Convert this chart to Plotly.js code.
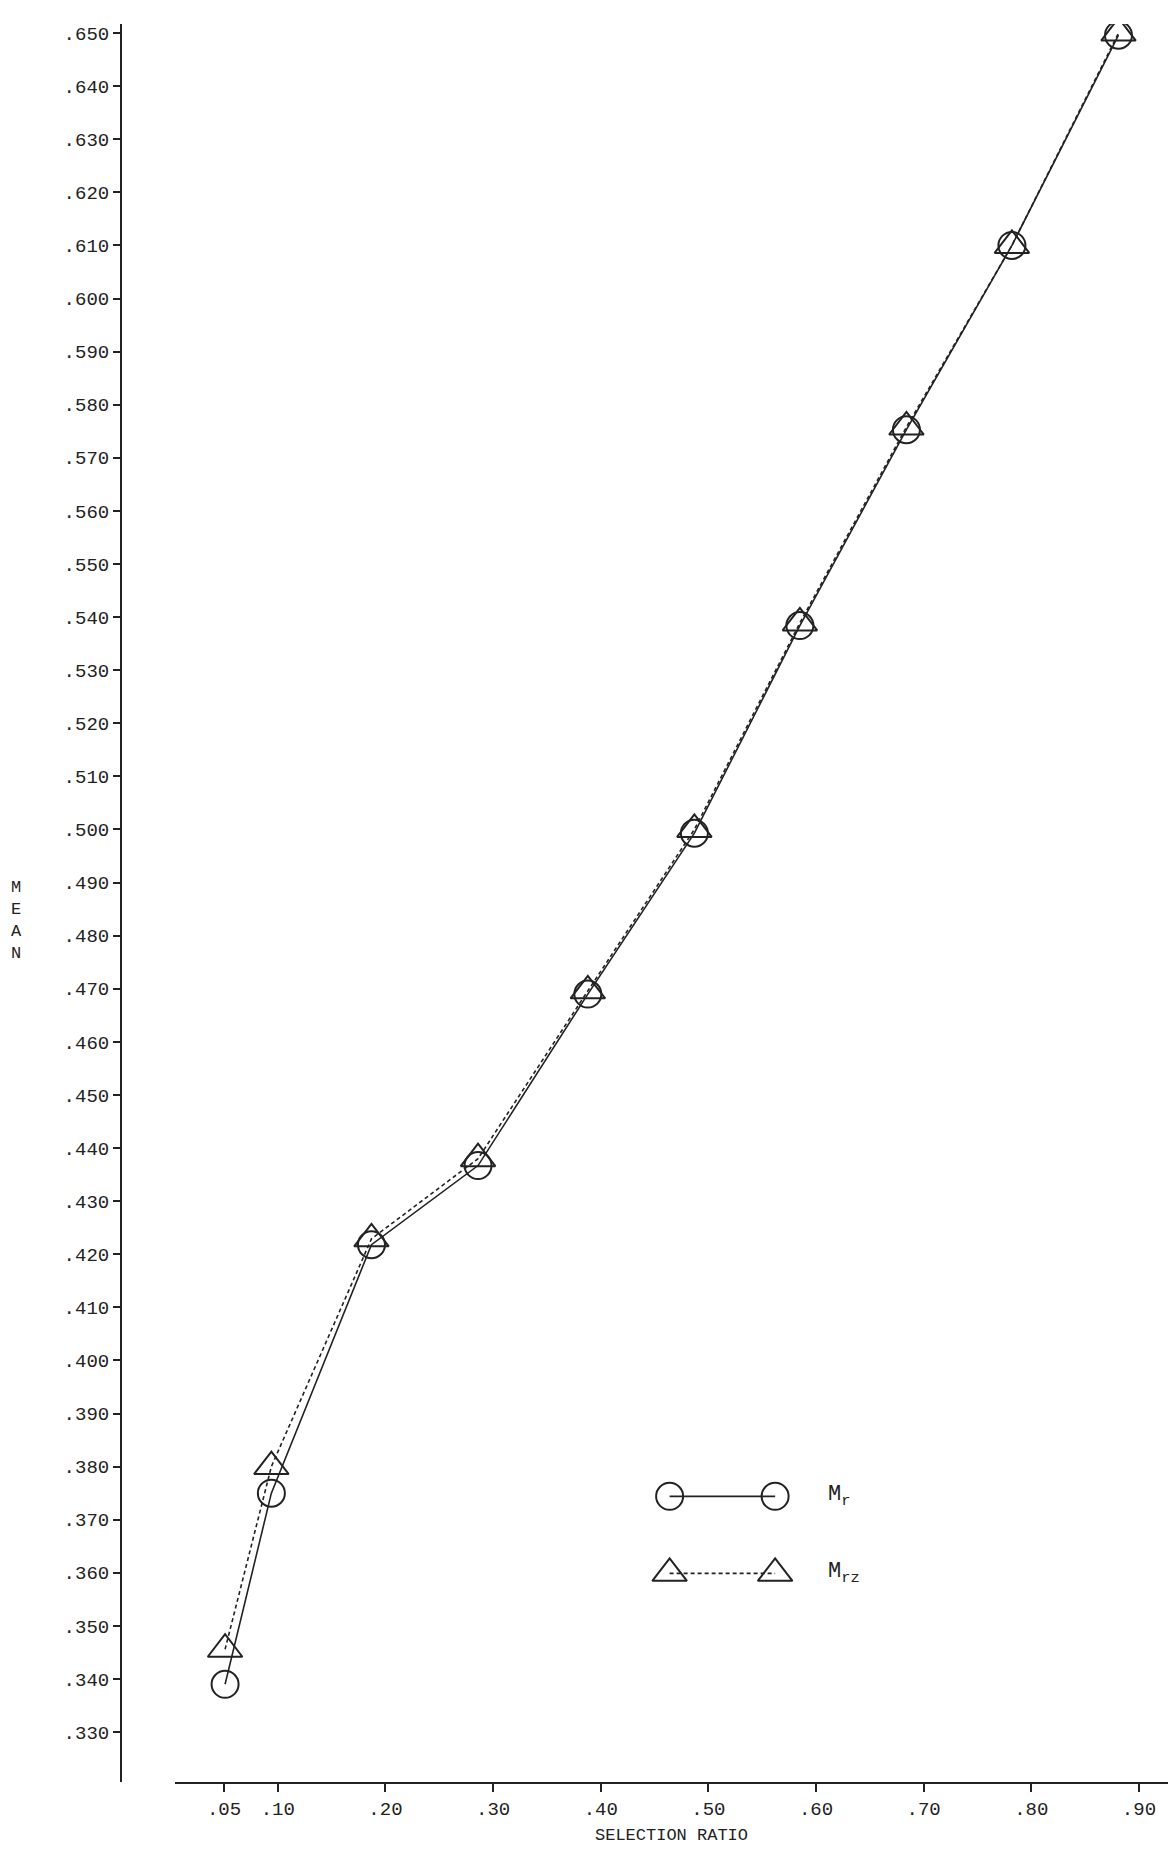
<!DOCTYPE html>
<html><head><meta charset="utf-8">
<script src="https://cdn.plot.ly/plotly-3.0.1.min.js"></script>
<style>body{margin:0;background:#fff}#chart{width:1170px;height:1852px}</style>
</head><body><div id="chart"></div>
<script>
const ratioMr = [0.051, 0.094, 0.187, 0.286, 0.388, 0.487, 0.585, 0.684, 0.782, 0.881];
const meanMr = [0.339, 0.375, 0.4218, 0.4367, 0.469, 0.4993, 0.5384, 0.5753, 0.610, 0.6496];
const ratioMrz = [0.051, 0.094, 0.187, 0.286, 0.388, 0.487, 0.585, 0.684, 0.782, 0.881];
const meanMrz = [0.3456, 0.380, 0.4229, 0.438, 0.4696, 0.500, 0.5389, 0.5758, 0.610, 0.650];
const xTicks = [0.05, 0.10, 0.20, 0.30, 0.40, 0.50, 0.60, 0.70, 0.80, 0.90];
const xTickText = ['.05', '.10', '.20', '.30', '.40', '.50', '.60', '.70', '.80', '.90'];
const yTicks = [];
for (let k = 33; k <= 65; k++) yTicks.push(k / 100);
const yTickText = yTicks.map(v => v.toFixed(3).replace(/^0/, ''));
// legend sample positions (data units)
const legX = [0.464, 0.562];
const legYr = [0.3744, 0.3744];
const legYrz = [0.3599, 0.3599];

const FONT = 'Liberation Mono, DejaVu Sans Mono, monospace';
const ink = '#222';
const circle = { symbol: 'circle-open', size: 27, color: ink, line: { width: 2, color: ink } };
const tri = { symbol: 'triangle-up-open', size: 30, color: ink, line: { width: 2, color: ink } };

const traces = [
  { x: ratioMr, y: meanMr, mode: 'lines+markers', type: 'scatter',
    line: { color: ink, width: 1.6 }, marker: circle },
  { x: ratioMrz, y: meanMrz, mode: 'lines+markers', type: 'scatter',
    line: { color: ink, width: 1.6, dash: '4px,3px' }, marker: tri },
  { x: legX, y: legYr, mode: 'lines+markers', type: 'scatter',
    line: { color: ink, width: 1.6 }, marker: circle },
  { x: legX, y: legYrz, mode: 'lines+markers', type: 'scatter',
    line: { color: ink, width: 1.6, dash: '4px,3px' }, marker: tri },
];

Plotly.newPlot('chart', traces, {
  width: 1170, height: 1852,
  margin: { l: 121, r: 2, t: 24, b: 70 },
  paper_bgcolor: '#fff', plot_bgcolor: '#fff',
  showlegend: false,
  font: { family: FONT, size: 19, color: ink },
  xaxis: {
    domain: [0.0516, 1],
    range: [0.0045, 0.927], tickmode: 'array', tickvals: xTicks, ticktext: xTickText,
    ticks: 'outside', ticklen: 8, tickwidth: 1.5, tickcolor: ink,
    showline: true, linecolor: ink, linewidth: 2, showgrid: false, zeroline: false,
    title: { text: 'SELECTION RATIO', font: { family: FONT, size: 17 }, standoff: 8 },
  },
  yaxis: {
    anchor: 'free', position: 0,
    range: [0.3206, 0.6517], tickmode: 'array', tickvals: yTicks, ticktext: yTickText,
    ticks: 'outside', ticklen: 7, tickwidth: 1.5, tickcolor: ink,
    showline: true, linecolor: ink, linewidth: 2, showgrid: false, zeroline: false,
  },
  annotations: [
    { xref: 'paper', yref: 'paper', x: -0.1, y: 0.49, xanchor: 'center', showarrow: false,
      text: 'M<br>E<br>A<br>N', font: { family: FONT, size: 17 } },
    { x: 0.609, y: 0.3744, xanchor: 'left', showarrow: false,
      text: 'M<sub>r</sub>', font: { family: FONT, size: 22 } },
    { x: 0.609, y: 0.3599, xanchor: 'left', showarrow: false,
      text: 'M<sub>rz</sub>', font: { family: FONT, size: 22 } },
  ],
}, { displayModeBar: false });
</script></body></html>
